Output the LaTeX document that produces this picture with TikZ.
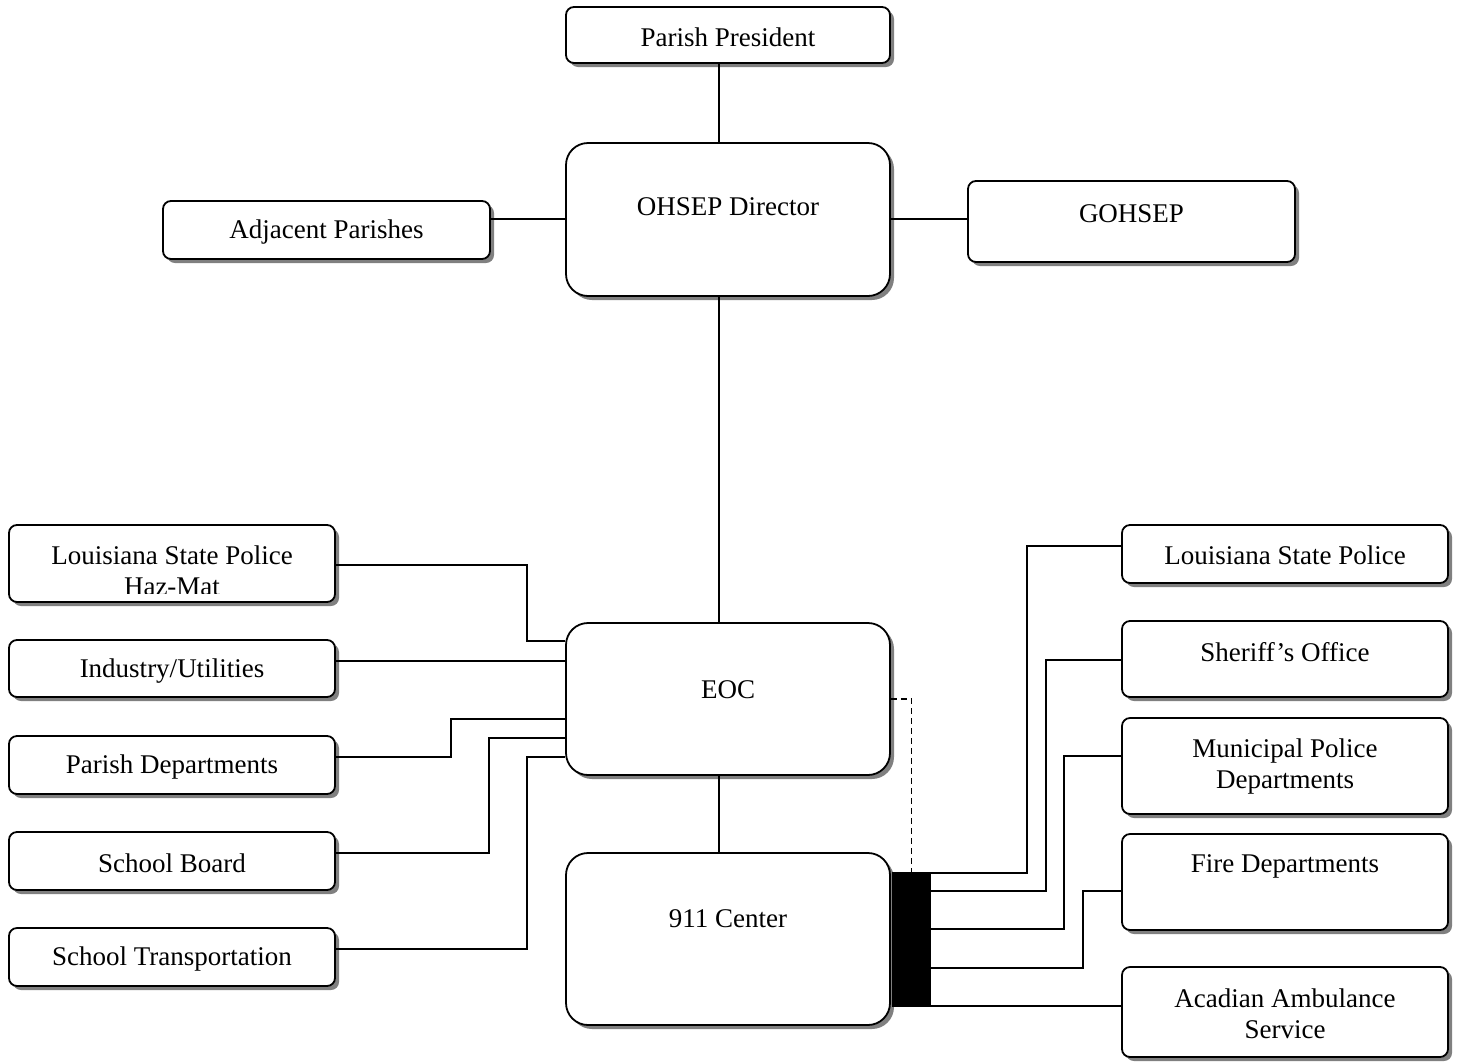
\documentclass[tikz,border=0pt]{standalone}
\usepackage{fontspec}
\setmainfont{Liberation Serif}
\usetikzlibrary{shadows,calc}
\begin{document}
\begin{tikzpicture}[x=1pt,y=-1pt,
  shadowed/.style={general shadow={fill=black!50,shadow xshift=4pt,shadow yshift=-4pt}},
  box/.style={draw,line width=1.8pt,fill=white,rounded corners=8pt,inner sep=0pt,shadowed},
  bigbox/.style={box,rounded corners=22pt},
  lbl/.style={font=\fontsize{27}{31}\selectfont,align=center,inner sep=0pt,yshift=-2pt},
  conn/.style={line width=1.5pt},
]
\useasboundingbox (0,0) rectangle (1461,1061);

% top chain
\node[box,minimum width=324pt,minimum height=56pt] (pp) at (728,35) {};
\node[lbl] (ppT) at (728,35) {Parish President};
\node[bigbox,minimum width=324pt,minimum height=153pt] (oh) at (728,219.5) {};
\node[lbl] (ohT) at (728,205) {OHSEP Director};
\node[box,minimum width=327pt,minimum height=58pt] (adj) at (326.5,230) {};
\node[lbl] (adjT) at (326.5,230) {Adjacent Parishes};
\node[box,minimum width=327pt,minimum height=81pt] (goh) at (1131.5,221.5) {};
\node[lbl] (gohT) at (1131.5,212) {GOHSEP};

% centre column
\node[bigbox,minimum width=324pt,minimum height=152pt] (eoc) at (728,699) {};
\node[lbl] (eocT) at (728,688) {EOC};
\node[bigbox,minimum width=324pt,minimum height=172pt] (ctr) at (728,939) {};
\node[lbl] (ctrT) at (728,917) {911 Center};
\node[fill=black,inner sep=0pt,minimum width=39pt,minimum height=135pt] (bar) at (911.5,939.5) {};

% left column
\node[box,minimum width=326pt,minimum height=77pt] (lsph) at (172,563.5) {};
\begin{scope}
  \clip (9,525) rectangle (335,593);
  \node[lbl] (lsphT) at (172,568.5) {Louisiana State Police\\Haz-Mat};
\end{scope}
\node[box,minimum width=326pt,minimum height=57pt] (ind) at (172,668.5) {};
\node[lbl] (indT) at (172,669) {Industry/Utilities};
\node[box,minimum width=326pt,minimum height=58pt] (pd) at (172,765) {};
\node[lbl] (pdT) at (172,765) {Parish Departments};
\node[box,minimum width=326pt,minimum height=58pt] (sb) at (172,861) {};
\node[lbl] (sbT) at (172,861) {School Board};
\node[box,minimum width=326pt,minimum height=58pt] (st) at (172,957) {};
\node[lbl] (stT) at (172,957) {School Transportation};

% right column
\node[box,minimum width=326pt,minimum height=58pt] (lsp) at (1285,554) {};
\node[lbl] (lspT) at (1285,553) {Louisiana State Police};
\node[box,minimum width=326pt,minimum height=76pt] (sh) at (1285,659) {};
\node[lbl] (shT) at (1285,650) {Sheriff’s Office};
\node[box,minimum width=326pt,minimum height=96pt] (mp) at (1285,766) {};
\node[lbl] (mpT) at (1285,764) {Municipal Police\\Departments};
\node[box,minimum width=326pt,minimum height=96pt] (fd) at (1285,882) {};
\node[lbl] (fdT) at (1285,864) {Fire Departments};
\node[box,minimum width=326pt,minimum height=90pt] (aa) at (1285,1012) {};
\node[lbl] (aaT) at (1285,1011.5) {Acadian Ambulance\\Service};

% vertical spine
\coordinate (spine) at (719,0);
\draw[conn] (pp.south -| spine) -- (oh.north -| spine);
\draw[conn] (oh.south -| spine) -- (eoc.north -| spine);
\draw[conn] (eoc.south -| spine) -- (ctr.north -| spine);

% OHSEP side links
\draw[conn] (adj.east |- 0,219) -- (oh.west |- 0,219);
\draw[conn] (oh.east |- 0,219) -- (goh.west |- 0,219);

% left links into EOC
\draw[conn] (lsph.east |- 0,565) -| (527,641) -- (eoc.west |- 0,641);
\draw[conn] (ind.east |- 0,661) -- (eoc.west |- 0,661);
\draw[conn] (pd.east |- 0,757) -| (451,719) -- (eoc.west |- 0,719);
\draw[conn] (sb.east |- 0,853) -| (489,738) -- (eoc.west |- 0,738);
\draw[conn] (st.east |- 0,949) -| (527,757) -- (eoc.west |- 0,757);

% EOC to 911 bar (dashed)
\draw[conn,dashed,dash pattern=on 6pt off 4pt] (eoc.east |- 0,699) -| (bar.north);

% 911 bar to responders
\draw[conn] (bar.east |- 0,873) -| (1027,546) -- (lsp.west |- 0,546);
\draw[conn] (bar.east |- 0,891) -| (1046,660) -- (sh.west |- 0,660);
\draw[conn] (bar.east |- 0,929) -| (1064,756) -- (mp.west |- 0,756);
\draw[conn] (bar.east |- 0,968) -| (1083,891) -- (fd.west |- 0,891);
\draw[conn] (bar.east |- 0,1006) -- (aa.west |- 0,1006);
\end{tikzpicture}
\end{document}
